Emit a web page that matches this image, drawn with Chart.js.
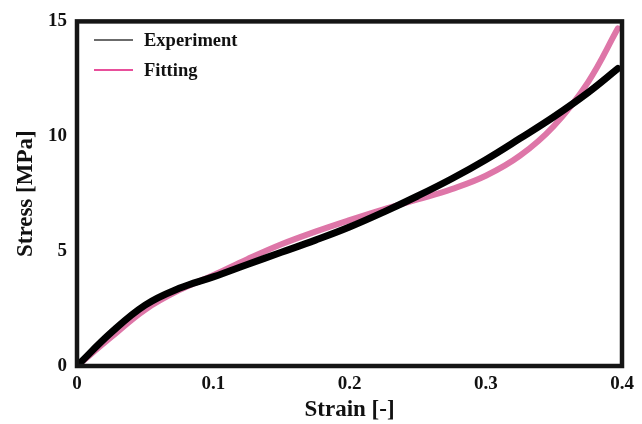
<!DOCTYPE html>
<html>
<head>
<meta charset="utf-8">
<script src="https://cdn.jsdelivr.net/npm/chart.js@4/dist/chart.umd.min.js"></script>
<style>
  html, body { margin: 0; padding: 0; background: #fff; }
  canvas { display: block; }
</style>
</head>
<body>
<canvas id="c" width="642" height="424"></canvas>
<script>
// ---- data ----
const strain = [0, 0.025, 0.05, 0.075, 0.1, 0.125, 0.15, 0.175, 0.2, 0.225, 0.25, 0.275, 0.3, 0.325, 0.35, 0.375, 0.397];
const experiment = [0, 1.45, 2.65, 3.38, 3.88, 4.42, 4.95, 5.48, 6.05, 6.7, 7.4, 8.15, 8.98, 9.9, 10.85, 11.9, 12.95];
const fitting = [0, 1.25, 2.45, 3.3, 3.95, 4.65, 5.3, 5.85, 6.35, 6.82, 7.25, 7.7, 8.28, 9.15, 10.45, 12.35, 14.7];
const xTicks = [0, 0.1, 0.2, 0.3, 0.4];
const yTicks = [0, 5, 10, 15];
const seriesNames = ['Experiment', 'Fitting'];
const xTitle = 'Strain [-]';
const yTitle = 'Stress [MPa]';

const FONT = '"Liberation Serif", "Times New Roman", serif';

const toPts = (xs, ys) => xs.map((x, i) => ({ x: x, y: ys[i] }));

const framePlugin = {
  id: 'frame',
  afterDraw(chart) {
    const a = chart.chartArea, ctx = chart.ctx;
    ctx.save();
    ctx.strokeStyle = '#151515';
    ctx.lineWidth = 4.5;
    ctx.strokeRect(a.left, a.top, a.right - a.left, a.bottom - a.top);
    ctx.restore();
  }
};

const legendPlugin = {
  id: 'insideLegend',
  afterDraw(chart) {
    const ctx = chart.ctx;
    const items = [
      { label: chart.data.datasets[0].label, color: '#3a3a3a', y: 40 },
      { label: chart.data.datasets[1].label, color: '#e0157a', y: 70 }
    ];
    ctx.save();
    items.forEach(it => {
      ctx.strokeStyle = it.color;
      ctx.lineWidth = 1.6;
      ctx.beginPath();
      ctx.moveTo(94, it.y);
      ctx.lineTo(133, it.y);
      ctx.stroke();
      ctx.fillStyle = '#111';
      ctx.font = 'bold 18.5px ' + FONT;
      ctx.textBaseline = 'middle';
      ctx.fillText(it.label, 144, it.y + 1);
    });
    ctx.restore();
  }
};

new Chart(document.getElementById('c'), {
  type: 'line',
  data: {
    datasets: [
      {
        label: seriesNames[0],
        data: toPts(strain, experiment),
        borderColor: '#000',
        borderWidth: 7,
        pointRadius: 0,
        tension: 0.4,
        borderCapStyle: 'round',
        order: 0
      },
      {
        label: seriesNames[1],
        data: toPts(strain, fitting),
        borderColor: 'rgb(222,118,168)',
        borderWidth: 6,
        pointRadius: 0,
        tension: 0.4,
        borderCapStyle: 'round',
        order: 1
      }
    ]
  },
  options: {
    responsive: false,
    animation: false,
    devicePixelRatio: 1,
    layout: { padding: { left: 0, right: 20, top: 16, bottom: 0 } },
    plugins: {
      legend: { display: false },
      tooltip: { enabled: false }
    },
    scales: {
      x: {
        type: 'linear',
        min: 0, max: 0.4,
        afterBuildTicks: s => { s.ticks = xTicks.map(v => ({ value: v })); },
        afterFit: s => { s.height = 58; },
        grid: { display: false, drawTicks: false },
        border: { display: false },
        ticks: {
          padding: 7,
          color: '#111',
          font: { family: FONT, size: 19, weight: 'bold' },
          callback: v => String(v),
          maxRotation: 0
        },
        title: {
          display: true,
          text: xTitle,
          color: '#111',
          font: { family: FONT, size: 23, weight: 'bold' },
          padding: { top: 0, bottom: 0 }
        }
      },
      y: {
        type: 'linear',
        min: 0, max: 15,
        afterBuildTicks: s => { s.ticks = yTicks.map(v => ({ value: v })); },
        afterFit: s => { s.width = 77; },
        grid: { display: false, drawTicks: false },
        border: { display: false },
        ticks: {
          padding: 10,
          color: '#111',
          font: { family: FONT, size: 19, weight: 'bold' },
          callback: v => String(v)
        },
        title: {
          display: true,
          text: yTitle,
          color: '#111',
          font: { family: FONT, size: 23, weight: 'bold' },
          padding: { top: 12, bottom: 0 }
        }
      }
    }
  },
  plugins: [framePlugin, legendPlugin]
});
</script>
</body>
</html>
